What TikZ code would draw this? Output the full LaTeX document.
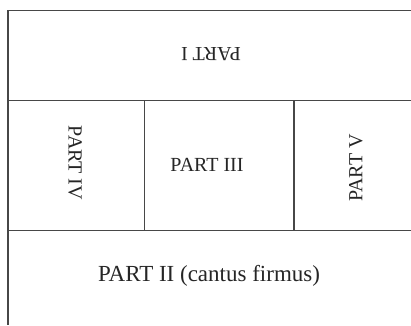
\documentclass[tikz,border=0pt]{standalone}
\usepackage{fontspec}
\setmainfont{Liberation Serif}
\begin{document}
\begin{tikzpicture}[x=1pt,y=-1pt,
  rule/.style={draw=black!72,line width=1.5pt},
  lbl/.style={inner sep=0pt,text=black!85,font=\fontsize{20}{24}\selectfont}]
\useasboundingbox (0,0) rectangle (411,325);
\fill[white] (0,0) rectangle (411,325);
\draw[rule] (411,10.5) -- (8,10.5) -- (8,325);
\draw[rule] (8,100.7) -- (411,100.7);
\draw[rule] (8,230.5) -- (411,230.5);
\draw[rule] (144.5,100.7) -- (144.5,230.5);
\draw[rule] (294,100.7) -- (294,230.5);
\node[lbl,rotate=180] (p1) at (211,54) {PART I};
\node[lbl,rotate=-90] (p4) at (75,163) {PART IV};
\node[lbl] (p3) at (207,165) {PART III};
\node[lbl,rotate=90] (p5) at (356,168) {PART V};
\node[lbl,font=\fontsize{23}{26}\selectfont] (p2) at (209,276) {PART II (cantus firmus)};
\end{tikzpicture}
\end{document}
